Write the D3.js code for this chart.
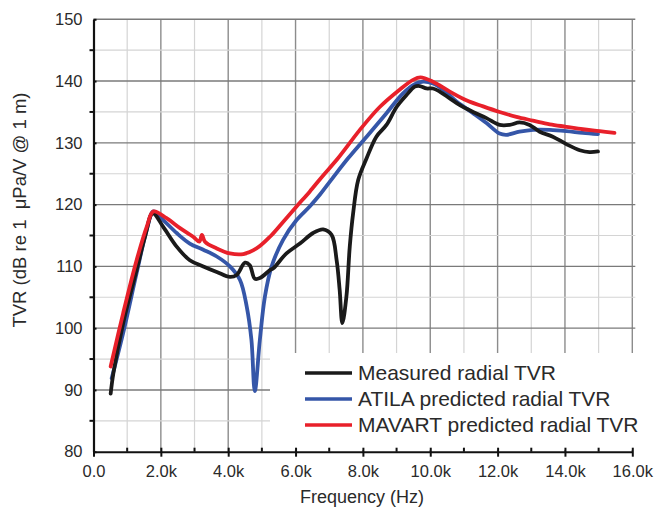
<!DOCTYPE html>
<html><head><meta charset="utf-8">
<script src="https://cdn.jsdelivr.net/npm/d3@7"></script>
<style>body{margin:0;background:#fff}svg{display:block}</style>
</head><body><svg id="c" width="655" height="514"></svg>
<script>
const seriesNames = ["Measured radial TVR","ATILA predicted radial TVR","MAVART predicted radial TVR"];
const seriesColors = ["#1a1a1a","#3556a8","#e8202a"];
const xTicks = [0,2000,4000,6000,8000,10000,12000,14000,16000];
const xTickLabels = ["0.0","2.0k","4.0k","6.0k","8.0k","10.0k","12.0k","14.0k","16.0k"];
const yTicks = [80,90,100,110,120,130,140,150];

// frequency (kHz), TVR (dB)
const measured = [[0.51,89.4],[0.59,92.7],[0.88,100.8],[1.28,109.4],[1.53,114.8],[1.76,118.6],[2.07,116.4],[2.47,113.2],[2.86,111.0],[3.26,110.0],[3.66,109.1],[4.05,108.3],[4.25,108.6],[4.5,110.6],[4.64,110.2],[4.79,108.0],[4.94,108.1],[5.24,109.4],[5.34,109.7],[5.73,112.1],[6.13,113.7],[6.52,115.4],[6.82,116.0],[7.07,115.1],[7.22,111.0],[7.31,106.2],[7.39,100.8],[7.51,105.1],[7.61,113.2],[7.71,118.6],[7.86,124.0],[8.11,127.5],[8.40,131.0],[8.70,132.9],[9.0,135.8],[9.29,137.7],[9.54,139.1],[9.69,139.2],[9.89,138.8],[10.08,138.8],[10.28,138.3],[10.58,137.2],[10.88,136.1],[11.27,135.0],[11.67,134.0],[12.06,132.9],[12.36,132.9],[12.65,133.3],[12.95,132.9],[13.25,131.8],[13.64,131.0],[14.04,129.8],[14.44,128.8],[14.73,128.5],[14.98,128.6]];
const atila = [[0.54,91.9],[0.88,99.2],[1.28,108.9],[1.58,115.9],[1.78,118.9],[2.07,117.5],[2.47,115.4],[2.86,113.7],[3.26,112.7],[3.66,111.6],[4.05,110.0],[4.35,107.8],[4.55,103.5],[4.69,98.1],[4.79,89.8],[4.94,98.1],[5.09,105.1],[5.29,110.0],[5.63,114.3],[6.03,117.5],[6.42,119.7],[6.72,121.6],[7.1,124.3],[7.56,127.5],[8.11,131.0],[8.70,134.8],[9.19,138.0],[9.54,139.5],[9.79,139.9],[10.08,139.6],[10.38,138.6],[10.78,136.7],[11.27,134.8],[11.67,133.2],[12.06,131.5],[12.26,131.3],[12.65,131.8],[13.05,132.1],[13.55,132.1],[14.04,131.9],[14.53,131.6],[14.98,131.4]];
const mavart = [[0.51,93.8],[0.88,102.4],[1.28,111.0],[1.58,116.4],[1.78,118.9],[2.17,117.8],[2.57,116.2],[2.96,114.8],[3.14,114.0],[3.22,115.1],[3.31,114.0],[3.66,112.9],[4.05,112.1],[4.45,112.0],[4.84,112.9],[5.24,114.8],[5.63,117.2],[6.03,119.7],[6.42,122.1],[6.8,124.6],[7.26,127.5],[7.91,132.1],[8.50,135.8],[9.09,138.6],[9.49,140.2],[9.71,140.6],[10.08,139.9],[10.58,138.3],[11.07,136.9],[11.57,135.9],[12.06,135.0],[12.56,134.2],[13.05,133.6],[13.55,133.0],[14.04,132.6],[14.53,132.2],[15.03,131.9],[15.47,131.6]];
const allSeries = [measured, atila, mavart];

const svg = d3.select("#c");
const x = d3.scaleLinear().domain([0,16000]).range([93.5,632.3]);
const y = d3.scaleLinear().domain([80,150]).range([451.7,19.3]);
const font = "Liberation Sans, Arial, sans-serif";
const txt = "#2a2a2a";

// grid
const g = svg.append("g");
d3.range(1000,16001,1000).forEach(v=>{
  const major = v%2000===0;
  g.append("line").attr("x1",x(v)).attr("x2",x(v)).attr("y1",y(150)).attr("y2",y(80))
   .attr("stroke", major?"#8c8c8c":"#d4d4d4").attr("stroke-width", major?1.4:1.2);
});
d3.range(85,151,5).forEach(v=>{
  const major = v%10===0;
  g.append("line").attr("x1",x(0)).attr("x2",x(16000)+3).attr("y1",y(v)).attr("y2",y(v))
   .attr("stroke", major?"#7a7a7a":"#d4d4d4").attr("stroke-width", major?1.4:1.2);
});

// curves
const line = d3.line().x(d=>x(d[0]*1000)).y(d=>y(d[1])).curve(d3.curveCatmullRom.alpha(0.5));
[1,0,2].forEach(i=>{
  svg.append("path").datum(allSeries[i]).attr("d",line).attr("fill","none")
    .attr("stroke",seriesColors[i]).attr("stroke-width",3.8)
    .attr("stroke-linejoin","round").attr("stroke-linecap","round");
});

// legend
svg.append("rect").attr("x",270).attr("y",353).attr("width",375).attr("height",97).attr("fill","#fff");
seriesNames.forEach((n,i)=>{
  const yy = 373 + i*26;
  svg.append("line").attr("x1",305).attr("x2",352).attr("y1",yy).attr("y2",yy)
    .attr("stroke",seriesColors[i]).attr("stroke-width",3.6);
  svg.append("text").attr("x",358).attr("y",yy+7).text(n)
    .attr("font-family",font).attr("font-size",21).attr("fill",txt);
});

// axes
const xa = svg.append("g").attr("transform",`translate(0,${y(80)})`)
  .call(d3.axisBottom(x).tickValues(xTicks).tickFormat((d,i)=>xTickLabels[i]).tickSize(5).tickSizeOuter(0));
xa.select(".domain").attr("stroke","#111").attr("stroke-width",2);
xa.selectAll(".tick line").attr("stroke","#111").attr("stroke-width",2).attr("y1",-4).attr("y2",5);
xa.selectAll(".tick text").attr("font-family",font).attr("font-size",16.5).attr("fill",txt).attr("dy","1.05em");
const xm = svg.append("g").attr("transform",`translate(0,${y(80)})`);
d3.range(1000,16000,2000).forEach(v=>{
  xm.append("line").attr("x1",x(v)).attr("x2",x(v)).attr("y1",-4).attr("y2",0).attr("stroke","#111").attr("stroke-width",2);
});

const ya = svg.append("g").attr("transform",`translate(${x(0)},0)`)
  .call(d3.axisLeft(y).tickValues(yTicks).tickFormat(d3.format("d")).tickSize(8).tickSizeOuter(0));
ya.select(".domain").attr("stroke","#111").attr("stroke-width",2.2);
ya.selectAll(".tick line").attr("stroke","#111").attr("stroke-width",2).attr("x2",3);
ya.selectAll(".tick text").attr("font-family",font).attr("font-size",16.5).attr("fill",txt).attr("x",-11);
d3.range(85,150,10).forEach(v=>{
  ya.append("line").attr("x1",-4).attr("x2",0).attr("y1",y(v)).attr("y2",y(v)).attr("stroke","#111").attr("stroke-width",2);
});

svg.append("text").attr("x",362).attr("y",503).attr("text-anchor","middle").text("Frequency (Hz)")
  .attr("font-family",font).attr("font-size",18).attr("fill",txt);
svg.append("text").attr("transform","translate(26,210) rotate(-90)").attr("text-anchor","middle")
  .text("TVR (dB re 1\u00a0 \u03bcPa/V @ 1 m)").attr("font-family",font).attr("font-size",18.5).attr("fill",txt);
</script></body></html>
